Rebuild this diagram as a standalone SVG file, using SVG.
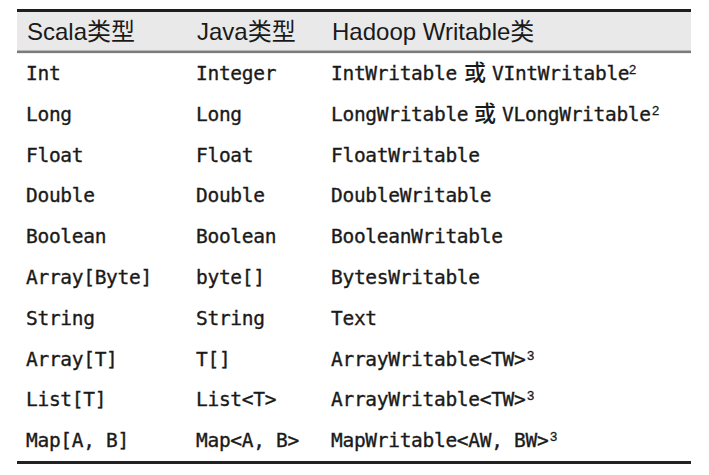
<svg xmlns="http://www.w3.org/2000/svg" width="709" height="475" viewBox="0 0 709 475">
<style>
.h{font-family:"Liberation Sans","Noto Sans CJK SC",Arial,sans-serif;font-size:24px;fill:#1a1a1a}
.m{font-family:"DejaVu Sans Mono","Liberation Mono",monospace;font-size:19.5px;letter-spacing:-0.3px;fill:#1a1a1a;stroke:#1a1a1a;stroke-width:0.35px}
.c{font-family:"Noto Sans CJK SC","Noto Sans CJK JP",sans-serif;font-size:22px;font-weight:500;fill:#1a1a1a}
.s{font-family:"Liberation Sans",Arial,sans-serif;font-size:13px;fill:#1a1a1a;stroke:#1a1a1a;stroke-width:0.3px}
</style>
<rect x="0" y="0" width="709" height="475" fill="#ffffff"/>
<g id="rules">
<rect x="17" y="12" width="674" height="38.5" fill="#e9e9e9"/>
<rect x="17" y="9" width="674" height="3" fill="#1e1e1e"/>
<rect x="17" y="50.5" width="674" height="2.6" fill="#7a7a7a"/>
<rect x="17" y="461" width="674" height="3" fill="#222222"/>
</g>
<g id="header">
<text class="h" x="27" y="40">Scala类型</text>
<text class="h" x="197" y="40">Java类型</text>
<text class="h" x="332" y="40">Hadoop Writable类</text>
</g>
<g id="row-int">
<text class="m" x="26" y="80">Int</text>
<text class="m" x="196" y="80">Integer</text>
<text class="m" x="331" y="80">IntWritable</text>
<text class="c" x="464" y="80">或</text>
<text class="m" x="492" y="80">VIntWritable</text>
<text class="s" x="629" y="74">2</text>
</g>
<g id="row-long">
<text class="m" x="26" y="120.8">Long</text>
<text class="m" x="196" y="120.8">Long</text>
<text class="m" x="331" y="120.8">LongWritable</text>
<text class="c" x="474" y="120.8">或</text>
<text class="m" x="502" y="120.8">VLongWritable</text>
<text class="s" x="652" y="114.8">2</text>
</g>
<g id="row-float">
<text class="m" x="26" y="161.6">Float</text>
<text class="m" x="196" y="161.6">Float</text>
<text class="m" x="331" y="161.6">FloatWritable</text>
</g>
<g id="row-double">
<text class="m" x="26" y="202.4">Double</text>
<text class="m" x="196" y="202.4">Double</text>
<text class="m" x="331" y="202.4">DoubleWritable</text>
</g>
<g id="row-boolean">
<text class="m" x="26" y="243.2">Boolean</text>
<text class="m" x="196" y="243.2">Boolean</text>
<text class="m" x="331" y="243.2">BooleanWritable</text>
</g>
<g id="row-bytes">
<text class="m" x="26" y="284">Array[Byte]</text>
<text class="m" x="196" y="284">byte[]</text>
<text class="m" x="331" y="284">BytesWritable</text>
</g>
<g id="row-string">
<text class="m" x="26" y="324.8">String</text>
<text class="m" x="196" y="324.8">String</text>
<text class="m" x="331" y="324.8">Text</text>
</g>
<g id="row-array">
<text class="m" x="26" y="365.6">Array[T]</text>
<text class="m" x="196" y="365.6">T[]</text>
<text class="m" x="331" y="365.6">ArrayWritable&lt;TW&gt;</text>
<text class="s" x="527" y="359.6">3</text>
</g>
<g id="row-list">
<text class="m" x="26" y="406.4">List[T]</text>
<text class="m" x="196" y="406.4">List&lt;T&gt;</text>
<text class="m" x="331" y="406.4">ArrayWritable&lt;TW&gt;</text>
<text class="s" x="527" y="400.4">3</text>
</g>
<g id="row-map">
<text class="m" x="26" y="447.2">Map[A, B]</text>
<text class="m" x="196" y="447.2">Map&lt;A, B&gt;</text>
<text class="m" x="331" y="447.2">MapWritable&lt;AW, BW&gt;</text>
<text class="s" x="550" y="441.2">3</text>
</g>
</svg>
